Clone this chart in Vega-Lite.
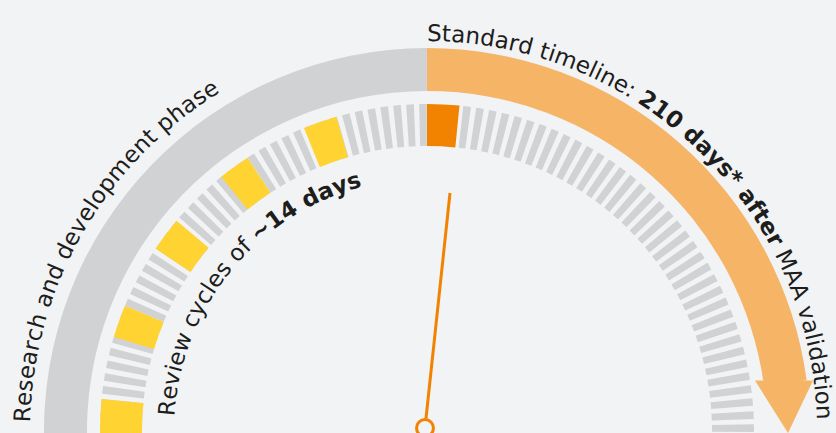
{
  "$schema": "https://vega.github.io/schema/vega-lite/v6.json",
  "width": 836,
  "height": 433,
  "padding": 0,
  "autosize": {"type": "none"},
  "background": "#f2f3f5",
  "config": {"view": {"stroke": null}},
  "datasets": {
    "bands": [
      {"s": -92, "e": 0, "k": "rd"},
      {"s": 0, "e": 82.4, "k": "std"}
    ],
    "head": [
      {"x": 328, "x2": 386, "y": 50.5},
      {"x": 361, "x2": 361, "y": -2}
    ],
    "ticks": [
      {"s": -90.295, "e": -88.945}, {"s": -88.015, "e": -86.665}, {"s": -85.735, "e": -84.385}, {"s": -83.455, "e": -82.105},
      {"s": -81.175, "e": -79.825}, {"s": -78.895, "e": -77.545}, {"s": -76.615, "e": -75.265}, {"s": -74.335, "e": -72.985},
      {"s": -72.055, "e": -70.705}, {"s": -69.775, "e": -68.425}, {"s": -67.495, "e": -66.145}, {"s": -65.215, "e": -63.865},
      {"s": -62.935, "e": -61.585}, {"s": -60.655, "e": -59.305}, {"s": -58.375, "e": -57.025}, {"s": -56.095, "e": -54.745},
      {"s": -53.815, "e": -52.465}, {"s": -51.535, "e": -50.185}, {"s": -49.255, "e": -47.905}, {"s": -46.975, "e": -45.625},
      {"s": -44.695, "e": -43.345}, {"s": -42.415, "e": -41.065}, {"s": -40.135, "e": -38.785}, {"s": -37.855, "e": -36.505},
      {"s": -35.575, "e": -34.225}, {"s": -33.295, "e": -31.945}, {"s": -31.015, "e": -29.665}, {"s": -28.735, "e": -27.385},
      {"s": -26.455, "e": -25.105}, {"s": -24.175, "e": -22.825}, {"s": -21.895, "e": -20.545}, {"s": -19.615, "e": -18.265},
      {"s": -17.335, "e": -15.985}, {"s": -15.055, "e": -13.705}, {"s": -12.775, "e": -11.425}, {"s": -10.495, "e": -9.145},
      {"s": -8.215, "e": -6.865}, {"s": -5.935, "e": -4.585}, {"s": -3.655, "e": -2.305}, {"s": -1.375, "e": -0.025},
      {"s": 6.375, "e": 7.725}, {"s": 8.665, "e": 10.015}, {"s": 10.955, "e": 12.305}, {"s": 13.245, "e": 14.595},
      {"s": 15.535, "e": 16.885}, {"s": 17.825, "e": 19.175}, {"s": 20.115, "e": 21.465}, {"s": 22.405, "e": 23.755},
      {"s": 24.695, "e": 26.045}, {"s": 26.985, "e": 28.335}, {"s": 29.275, "e": 30.625}, {"s": 31.565, "e": 32.915},
      {"s": 33.855, "e": 35.205}, {"s": 36.145, "e": 37.495}, {"s": 38.435, "e": 39.785}, {"s": 40.725, "e": 42.075},
      {"s": 43.015, "e": 44.365}, {"s": 45.305, "e": 46.655}, {"s": 47.595, "e": 48.945}, {"s": 49.885, "e": 51.235},
      {"s": 52.175, "e": 53.525}, {"s": 54.465, "e": 55.815}, {"s": 56.755, "e": 58.105}, {"s": 59.045, "e": 60.395},
      {"s": 61.335, "e": 62.685}, {"s": 63.625, "e": 64.975}, {"s": 65.915, "e": 67.265}, {"s": 68.205, "e": 69.555},
      {"s": 70.495, "e": 71.845}, {"s": 72.785, "e": 74.135}, {"s": 75.075, "e": 76.425}, {"s": 77.365, "e": 78.715},
      {"s": 79.655, "e": 81.005}, {"s": 81.945, "e": 83.295}, {"s": 84.235, "e": 85.585}, {"s": 86.525, "e": 87.875},
      {"s": 88.815, "e": 90.165}
    ],
    "blocks": [
      {"s": -90.4, "e": -84.4, "k": "review"},
      {"s": -73.3, "e": -67.5, "k": "review"},
      {"s": -56.1, "e": -50.0, "k": "review"},
      {"s": -39.0, "e": -33.3, "k": "review"},
      {"s": -22.1, "e": -16.1, "k": "review"},
      {"s": 0, "e": 5.7, "k": "first"}
    ],
    "needle": [{"x": -1, "y": 12.5, "x2": 23, "y2": 238}],
    "pivot": [{"x": -2, "y": 3}],
    "left": [
      {"c": "R", "th": -87.63}, {"c": "e", "th": -85.43}, {"c": "s", "th": -83.52},
      {"c": "e", "th": -81.61}, {"c": "a", "th": -79.55}, {"c": "r", "th": -77.83},
      {"c": "c", "th": -76.22}, {"c": "h", "th": -74.23},
      {"c": "a", "th": -71.06}, {"c": "n", "th": -68.97}, {"c": "d", "th": -66.84},
      {"c": "d", "th": -63.64}, {"c": "e", "th": -61.54}, {"c": "v", "th": -59.51},
      {"c": "e", "th": -57.48}, {"c": "l", "th": -55.98}, {"c": "o", "th": -54.48},
      {"c": "p", "th": -52.39}, {"c": "m", "th": -49.69}, {"c": "e", "th": -47.02},
      {"c": "n", "th": -44.92}, {"c": "t", "th": -43.20},
      {"c": "p", "th": -40.40}, {"c": "h", "th": -38.27}, {"c": "a", "th": -36.17},
      {"c": "s", "th": -34.27}, {"c": "e", "th": -32.36}
    ],
    "right": [
      {"c": "S", "th": 1.08, "em": 0}, {"c": "t", "th": 2.81, "em": 0}, {"c": "a", "th": 4.52, "em": 0},
      {"c": "n", "th": 6.63, "em": 0}, {"c": "d", "th": 8.77, "em": 0}, {"c": "a", "th": 10.89, "em": 0},
      {"c": "r", "th": 12.62, "em": 0}, {"c": "d", "th": 14.39, "em": 0},
      {"c": "t", "th": 17.21, "em": 0}, {"c": "i", "th": 18.34, "em": 0}, {"c": "m", "th": 20.46, "em": 0},
      {"c": "e", "th": 23.15, "em": 0}, {"c": "l", "th": 24.66, "em": 0}, {"c": "i", "th": 25.60, "em": 0},
      {"c": "n", "th": 27.15, "em": 0}, {"c": "e", "th": 29.26, "em": 0}, {"c": ":", "th": 30.88, "em": 0},
      {"c": "2", "th": 33.70, "em": 1}, {"c": "1", "th": 36.06, "em": 1}, {"c": "0", "th": 38.41, "em": 1},
      {"c": "d", "th": 41.98, "em": 1}, {"c": "a", "th": 44.34, "em": 1}, {"c": "y", "th": 46.58, "em": 1},
      {"c": "s", "th": 48.70, "em": 1}, {"c": "*", "th": 50.59, "em": 1},
      {"c": "a", "th": 53.80, "em": 1}, {"c": "f", "th": 55.67, "em": 1}, {"c": "t", "th": 57.22, "em": 1},
      {"c": "e", "th": 59.18, "em": 1}, {"c": "r", "th": 61.16, "em": 1},
      {"c": "M", "th": 64.53, "em": 0}, {"c": "A", "th": 67.15, "em": 0}, {"c": "A", "th": 69.47, "em": 0},
      {"c": "v", "th": 72.70, "em": 0}, {"c": "a", "th": 74.74, "em": 0}, {"c": "l", "th": 76.25, "em": 0},
      {"c": "i", "th": 77.19, "em": 0}, {"c": "d", "th": 78.74, "em": 0}, {"c": "a", "th": 80.85, "em": 0},
      {"c": "t", "th": 82.55, "em": 0}, {"c": "i", "th": 83.69, "em": 0}, {"c": "o", "th": 85.20, "em": 0},
      {"c": "n", "th": 87.30, "em": 0}
    ],
    "inner": [
      {"c": "R", "th": -84.90, "em": 0}, {"c": "e", "th": -81.50, "em": 0}, {"c": "v", "th": -78.37, "em": 0},
      {"c": "i", "th": -76.11, "em": 0}, {"c": "e", "th": -73.79, "em": 0}, {"c": "w", "th": -70.07, "em": 0},
      {"c": "c", "th": -64.87, "em": 0}, {"c": "y", "th": -61.91, "em": 0}, {"c": "c", "th": -58.94, "em": 0},
      {"c": "l", "th": -56.80, "em": 0}, {"c": "e", "th": -54.48, "em": 0}, {"c": "s", "th": -51.53, "em": 0},
      {"c": "o", "th": -46.94, "em": 0}, {"c": "f", "th": -44.44, "em": 0},
      {"c": "~", "th": -39.70, "em": 1}, {"c": "1", "th": -35.72, "em": 1}, {"c": "4", "th": -32.11, "em": 1},
      {"c": "d", "th": -26.64, "em": 1}, {"c": "a", "th": -23.03, "em": 1}, {"c": "y", "th": -19.58, "em": 1},
      {"c": "s", "th": -16.35, "em": 1}
    ]
  },
  "layer": [
    {
      "data": {"name": "bands"},
      "mark": {"type": "arc"},
      "encoding": {
        "x": {"datum": 0, "type": "quantitative", "scale": {"domain": [-427, 409], "nice": false, "zero": false}, "axis": null},
        "y": {"datum": 0, "type": "quantitative", "scale": {"domain": [-2, 431], "nice": false, "zero": false}, "axis": null},
        "theta": {"field": "s", "type": "quantitative", "stack": null, "scale": {"domain": [-90, 90], "range": [-1.5707963, 1.5707963], "nice": false, "zero": false}},
        "theta2": {"field": "e"},
        "radius": {"datum": 340, "type": "quantitative", "scale": {"type": "linear", "domain": [0, 400], "range": [0, 400], "nice": false, "zero": true}},
        "radius2": {"datum": 383},
        "color": {"field": "k", "type": "nominal", "legend": null, "scale": {"domain": ["rd", "std", "review", "first"], "range": ["#d1d2d4", "#f6b467", "#ffd332", "#f28300"]}}
      }
    },
    {
      "data": {"name": "head"},
      "mark": {"type": "area", "orient": "horizontal", "color": "#f6b467"},
      "encoding": {
        "y": {"field": "y", "type": "quantitative", "scale": {"domain": [-2, 431], "nice": false, "zero": false}, "axis": null},
        "x": {"field": "x", "type": "quantitative", "scale": {"domain": [-427, 409], "nice": false, "zero": false}, "axis": null},
        "x2": {"field": "x2"}
      }
    },
    {
      "data": {"name": "ticks"},
      "mark": {"type": "arc", "color": "#d1d2d4"},
      "encoding": {
        "x": {"datum": 0, "type": "quantitative", "scale": {"domain": [-427, 409], "nice": false, "zero": false}, "axis": null},
        "y": {"datum": 0, "type": "quantitative", "scale": {"domain": [-2, 431], "nice": false, "zero": false}, "axis": null},
        "theta": {"field": "s", "type": "quantitative", "stack": null, "scale": {"domain": [-90, 90], "range": [-1.5707963, 1.5707963], "nice": false, "zero": false}},
        "theta2": {"field": "e"},
        "radius": {"datum": 285, "type": "quantitative", "scale": {"type": "linear", "domain": [0, 400], "range": [0, 400], "nice": false, "zero": true}},
        "radius2": {"datum": 327}
      }
    },
    {
      "data": {"name": "blocks"},
      "mark": {"type": "arc"},
      "encoding": {
        "x": {"datum": 0, "type": "quantitative", "scale": {"domain": [-427, 409], "nice": false, "zero": false}, "axis": null},
        "y": {"datum": 0, "type": "quantitative", "scale": {"domain": [-2, 431], "nice": false, "zero": false}, "axis": null},
        "theta": {"field": "s", "type": "quantitative", "stack": null, "scale": {"domain": [-90, 90], "range": [-1.5707963, 1.5707963], "nice": false, "zero": false}},
        "theta2": {"field": "e"},
        "radius": {"datum": 285, "type": "quantitative", "scale": {"type": "linear", "domain": [0, 400], "range": [0, 400], "nice": false, "zero": true}},
        "radius2": {"datum": 327},
        "color": {"field": "k", "type": "nominal", "legend": null, "scale": {"domain": ["rd", "std", "review", "first"], "range": ["#d1d2d4", "#f6b467", "#ffd332", "#f28300"]}}
      }
    },
    {
      "data": {"name": "needle"},
      "mark": {"type": "rule", "color": "#f28300", "strokeWidth": 3},
      "encoding": {
        "x": {"field": "x", "type": "quantitative", "scale": {"domain": [-427, 409], "nice": false, "zero": false}, "axis": null},
        "y": {"field": "y", "type": "quantitative", "scale": {"domain": [-2, 431], "nice": false, "zero": false}, "axis": null},
        "x2": {"field": "x2"},
        "y2": {"field": "y2"}
      }
    },
    {
      "data": {"name": "pivot"},
      "mark": {"type": "point", "shape": "circle", "size": 284, "stroke": "#f28300", "strokeWidth": 3, "fill": "#f2f3f5", "filled": true, "opacity": 1},
      "encoding": {
        "x": {"field": "x", "type": "quantitative", "scale": {"domain": [-427, 409], "nice": false, "zero": false}, "axis": null},
        "y": {"field": "y", "type": "quantitative", "scale": {"domain": [-2, 431], "nice": false, "zero": false}, "axis": null}
      }
    },
    {
      "data": {"name": "left"},
      "mark": {"type": "text", "font": "DejaVu Sans", "fontSize": 23, "align": "center", "baseline": "alphabetic", "color": "#1d1d1b"},
      "encoding": {
        "x": {"datum": 0, "type": "quantitative", "scale": {"domain": [-427, 409], "nice": false, "zero": false}, "axis": null},
        "y": {"datum": 0, "type": "quantitative", "scale": {"domain": [-2, 431], "nice": false, "zero": false}, "axis": null},
        "theta": {"field": "th", "type": "quantitative", "stack": null, "scale": {"domain": [-90, 90], "range": [-1.5707963, 1.5707963], "nice": false, "zero": false}},
        "radius": {"datum": 397, "type": "quantitative", "scale": {"type": "linear", "domain": [0, 400], "range": [0, 400], "nice": false, "zero": true}},
        "angle": {"field": "th", "type": "quantitative", "legend": null, "scale": {"domain": [-90, 90], "range": [-90, 90], "nice": false, "zero": false}},
        "text": {"field": "c"}
      }
    },
    {
      "data": {"name": "right"},
      "transform": [{"filter": "datum.em == 0"}],
      "mark": {"type": "text", "font": "DejaVu Sans", "fontSize": 23, "align": "center", "baseline": "alphabetic", "color": "#1d1d1b"},
      "encoding": {
        "x": {"datum": 0, "type": "quantitative", "scale": {"domain": [-427, 409], "nice": false, "zero": false}, "axis": null},
        "y": {"datum": 0, "type": "quantitative", "scale": {"domain": [-2, 431], "nice": false, "zero": false}, "axis": null},
        "theta": {"field": "th", "type": "quantitative", "stack": null, "scale": {"domain": [-90, 90], "range": [-1.5707963, 1.5707963], "nice": false, "zero": false}},
        "radius": {"datum": 390, "type": "quantitative", "scale": {"type": "linear", "domain": [0, 400], "range": [0, 400], "nice": false, "zero": true}},
        "angle": {"field": "th", "type": "quantitative", "legend": null, "scale": {"domain": [-90, 90], "range": [-90, 90], "nice": false, "zero": false}},
        "text": {"field": "c"}
      }
    },
    {
      "data": {"name": "right"},
      "transform": [{"filter": "datum.em == 1"}],
      "mark": {"type": "text", "font": "DejaVu Sans", "fontSize": 23, "fontWeight": "bold", "align": "center", "baseline": "alphabetic", "color": "#1d1d1b"},
      "encoding": {
        "x": {"datum": 0, "type": "quantitative", "scale": {"domain": [-427, 409], "nice": false, "zero": false}, "axis": null},
        "y": {"datum": 0, "type": "quantitative", "scale": {"domain": [-2, 431], "nice": false, "zero": false}, "axis": null},
        "theta": {"field": "th", "type": "quantitative", "stack": null, "scale": {"domain": [-90, 90], "range": [-1.5707963, 1.5707963], "nice": false, "zero": false}},
        "radius": {"datum": 390, "type": "quantitative", "scale": {"type": "linear", "domain": [0, 400], "range": [0, 400], "nice": false, "zero": true}},
        "angle": {"field": "th", "type": "quantitative", "legend": null, "scale": {"domain": [-90, 90], "range": [-90, 90], "nice": false, "zero": false}},
        "text": {"field": "c"}
      }
    },
    {
      "data": {"name": "inner"},
      "transform": [{"filter": "datum.em == 0"}],
      "mark": {"type": "text", "font": "DejaVu Sans", "fontSize": 23, "align": "center", "baseline": "alphabetic", "color": "#1d1d1b"},
      "encoding": {
        "x": {"datum": 0, "type": "quantitative", "scale": {"domain": [-427, 409], "nice": false, "zero": false}, "axis": null},
        "y": {"datum": 0, "type": "quantitative", "scale": {"domain": [-2, 431], "nice": false, "zero": false}, "axis": null},
        "theta": {"field": "th", "type": "quantitative", "stack": null, "scale": {"domain": [-90, 90], "range": [-1.5707963, 1.5707963], "nice": false, "zero": false}},
        "radius": {"datum": 253, "type": "quantitative", "scale": {"type": "linear", "domain": [0, 400], "range": [0, 400], "nice": false, "zero": true}},
        "angle": {"field": "th", "type": "quantitative", "legend": null, "scale": {"domain": [-90, 90], "range": [-90, 90], "nice": false, "zero": false}},
        "text": {"field": "c"}
      }
    },
    {
      "data": {"name": "inner"},
      "transform": [{"filter": "datum.em == 1"}],
      "mark": {"type": "text", "font": "DejaVu Sans", "fontSize": 23, "fontWeight": "bold", "align": "center", "baseline": "alphabetic", "color": "#1d1d1b"},
      "encoding": {
        "x": {"datum": 0, "type": "quantitative", "scale": {"domain": [-427, 409], "nice": false, "zero": false}, "axis": null},
        "y": {"datum": 0, "type": "quantitative", "scale": {"domain": [-2, 431], "nice": false, "zero": false}, "axis": null},
        "theta": {"field": "th", "type": "quantitative", "stack": null, "scale": {"domain": [-90, 90], "range": [-1.5707963, 1.5707963], "nice": false, "zero": false}},
        "radius": {"datum": 253, "type": "quantitative", "scale": {"type": "linear", "domain": [0, 400], "range": [0, 400], "nice": false, "zero": true}},
        "angle": {"field": "th", "type": "quantitative", "legend": null, "scale": {"domain": [-90, 90], "range": [-90, 90], "nice": false, "zero": false}},
        "text": {"field": "c"}
      }
    }
  ]
}
